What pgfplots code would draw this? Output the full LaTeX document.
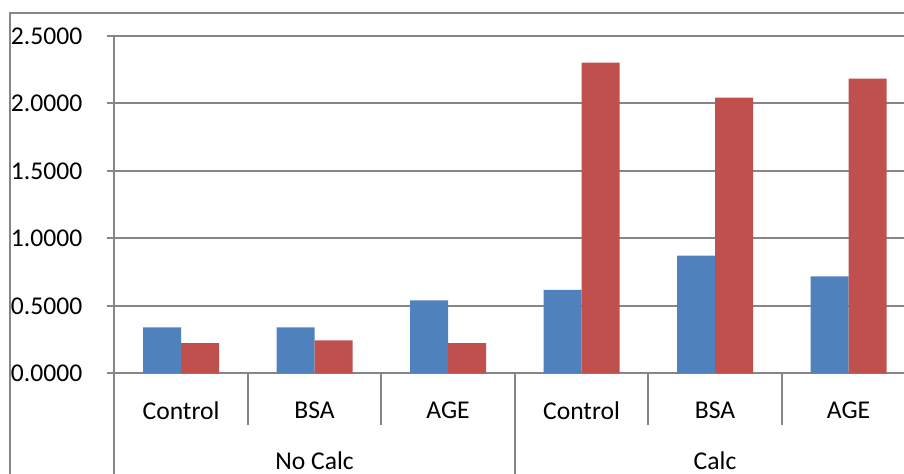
\documentclass[border=0pt]{standalone}
\usepackage{pgfplots}
\pgfplotsset{compat=1.18}
\usepackage{fontspec}
\setmainfont{Carlito}
\definecolor{xlblue}{HTML}{4F81BD}
\definecolor{xlred}{HTML}{C0504D}
\definecolor{xlgrid}{HTML}{868686}
\begin{document}
\begin{tikzpicture}
\path[use as bounding box] (-57.15pt,-49.85pt) rectangle (394.85pt,186.65pt);
\draw[xlgrid, line width=1pt] (-52.15pt,-80pt) -- (-52.15pt,180.3pt) -- (460pt,180.3pt);
\begin{axis}[
  at={(0pt,0pt)}, anchor=south west,
  scale only axis, width=400.5pt, height=168.65pt,
  xmin=-0.5, xmax=5.5, ymin=0, ymax=2.5,
  ybar=0pt, bar width=19pt,
  axis x line=bottom, axis y line=left,
  axis line style={xlgrid, line width=1pt, -},
  ytick={0,0.5,1,1.5,2,2.5},
  ymajorgrids, major grid style={xlgrid, line width=1pt},
  xtick=data,
  xticklabels={Control,BSA,AGE,Control,BSA,AGE},
  x tick style={draw=none},
  y tick style={xlgrid, line width=1pt},
  tick align=outside, major tick length=3.5pt,
  /pgf/number format/assume math mode=true,
  yticklabel={\pgfmathprintnumber[fixed,fixed zerofill,precision=4]{\tick}},
  tick label style={font=\fontsize{12.8}{15}\selectfont, text=black},
  yticklabel style={anchor=east, xshift=-9pt},
  xticklabel style={anchor=center, yshift=-15pt},
  clip=false,
]
\addplot[fill=xlblue, draw=none] coordinates {(0,0.340) (1,0.340) (2,0.540) (3,0.619) (4,0.873) (5,0.718)};
\addplot[fill=xlred, draw=none] coordinates {(0,0.224) (1,0.244) (2,0.224) (3,2.303) (4,2.044) (5,2.185)};
\draw[xlgrid, line width=1pt] (axis cs:0.5,0) -- ++(0pt,-26pt);
\draw[xlgrid, line width=1pt] (axis cs:1.5,0) -- ++(0pt,-26pt);
\draw[xlgrid, line width=1pt] (axis cs:3.5,0) -- ++(0pt,-26pt);
\draw[xlgrid, line width=1pt] (axis cs:4.5,0) -- ++(0pt,-26pt);
\draw[xlgrid, line width=1pt] (axis cs:-0.5,0) -- ++(0pt,-60pt);
\draw[xlgrid, line width=1pt] (axis cs:2.5,0) -- ++(0pt,-60pt);
\draw[xlgrid, line width=1pt] (axis cs:5.5,0) -- ++(0pt,-60pt);
\node[font=\fontsize{12.8}{15}\selectfont] at ([yshift=-43.5pt]axis cs:1,0) {No Calc};
\node[font=\fontsize{12.8}{15}\selectfont] at ([yshift=-43.5pt]axis cs:4,0) {Calc};
\end{axis}
\end{tikzpicture}
\end{document}
